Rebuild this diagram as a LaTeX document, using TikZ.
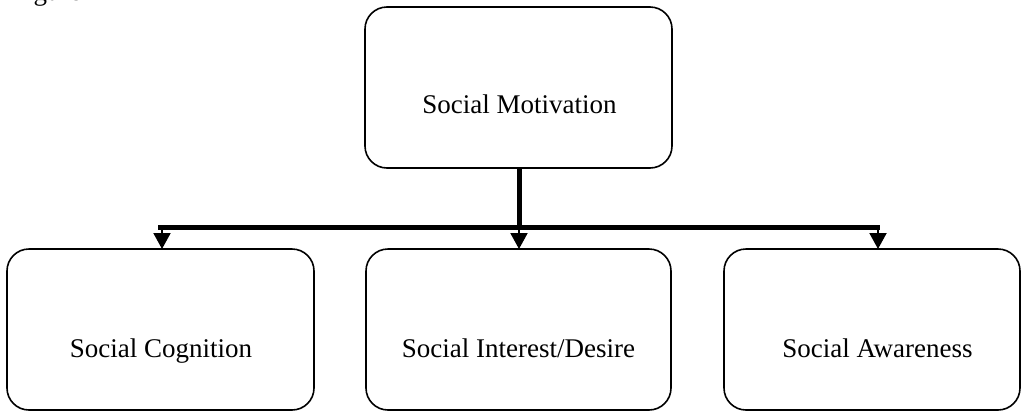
\documentclass[tikz,border=0pt]{standalone}
\usepackage{fontspec}
\setmainfont{Liberation Serif}
\usetikzlibrary{arrows.meta,calc}
\tikzset{
  box/.style={draw, line width=1.6pt, rounded corners=22pt, inner sep=0pt, outer sep=0pt},
  txt/.style={anchor=base, inner sep=0pt, font=\fontsize{27}{32}\selectfont},
  trunk/.style={line width=5pt},
  branch/.style={line width=2pt, -{Triangle[length=16pt,width=17pt]}}
}
\begin{document}
\begin{tikzpicture}[x=1pt,y=-1pt]
\useasboundingbox (0,0) rectangle (1023,413);
\begin{scope}
  \clip (0,0) rectangle (1023,413);
  \node[txt, anchor=base west] (cap) at (11,0) {Figure};
\end{scope}
\node[box, minimum width=307pt, minimum height=161pt] (top) at (518.5,87.5) {};
\node[box, minimum width=307pt, minimum height=161pt] (left) at (160.5,329.5) {};
\node[box, minimum width=305pt, minimum height=161pt] (mid) at (518.5,329.5) {};
\node[box, minimum width=296pt, minimum height=161pt] (right) at (872,329.5) {};
\node[txt] (ttop) at ($(top.center)+(1,25.5)$) {Social Motivation};
\node[txt] (tleft) at ($(left.center)+(0.5,27.5)$) {Social Cognition};
\node[txt] (tmid) at ($(mid.center)+(0,27.5)$) {Social Interest/Desire};
\node[txt] (tright) at ($(right.center)+(5.5,27.5)$) {Social Awareness};
\coordinate (j) at (519,227);
\coordinate (hl) at (158,227);
\coordinate (hr) at (880,227);
\draw[trunk] (top.south -| j) -- (j);
\draw[trunk] (hl) -- (hr);
\draw[branch] (162,227) -- (162,249 |- left.north);
\draw[branch] (j) -- (j |- mid.north);
\draw[branch] (878,227) -- (878,249 |- right.north);
\end{tikzpicture}
\end{document}
